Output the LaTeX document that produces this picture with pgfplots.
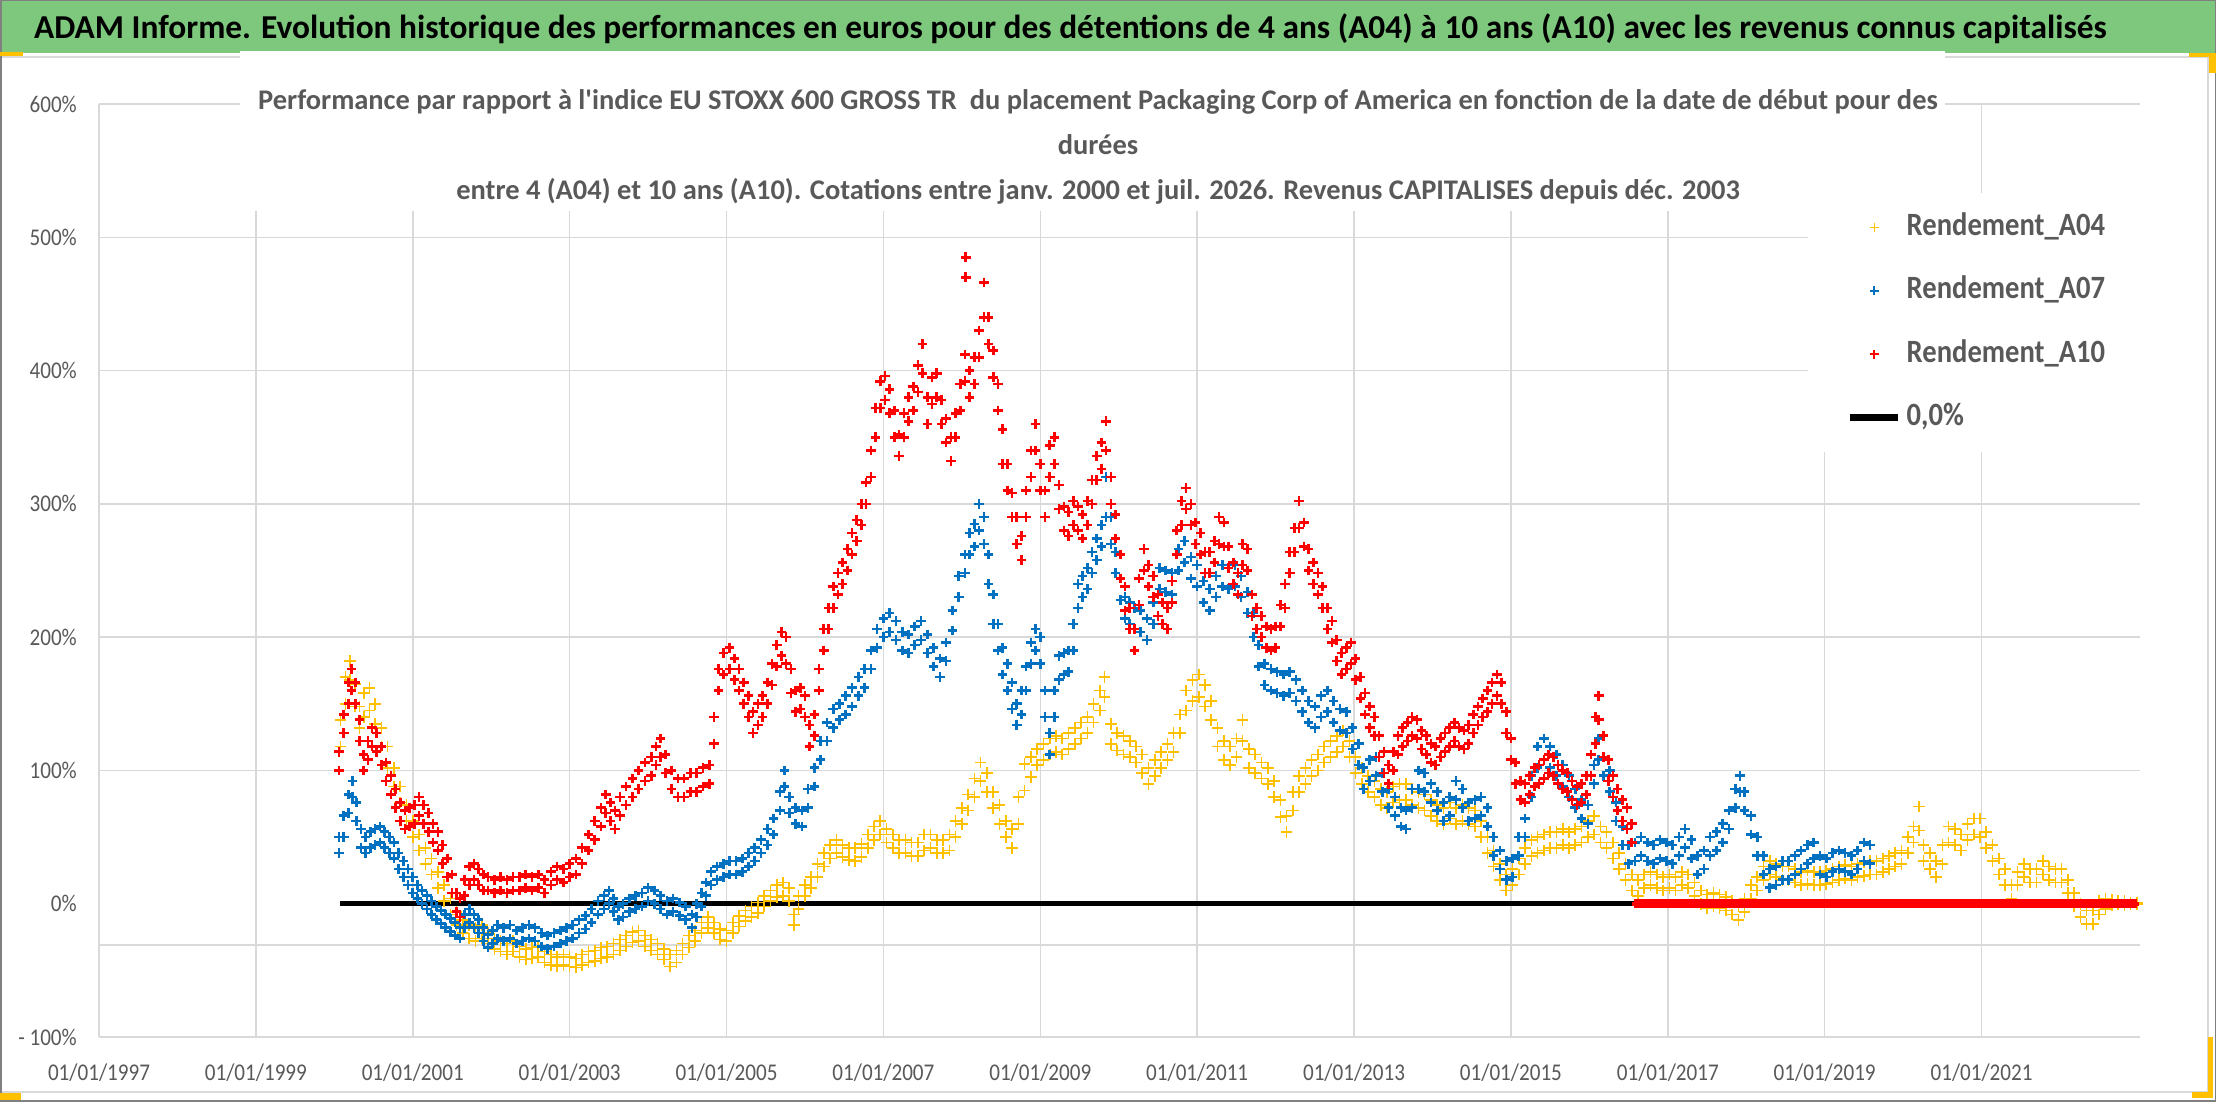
\documentclass[border=0pt]{standalone}
\usepackage{fontspec}
\usepackage{pgfplots}
\usepackage{pgfplotstable}
\pgfplotsset{compat=1.18}
\newfontfamily\carl{Carlito}[FakeStretch=0.88]
\newfontfamily\carln{Carlito}
\newcommand\ticksfont{\carl\fontsize{24}{28}\selectfont}
\newcommand\legfont{\carl\bfseries\fontsize{32.5}{38}\selectfont}
\newcommand\subfont{\carln\bfseries\fontsize{28.45}{32}\selectfont}
\newcommand\titfont{\carln\bfseries\fontsize{33.4}{40}\selectfont}
\definecolor{titlegreen}{RGB}{126,200,126}
\definecolor{gridc}{RGB}{217,217,217}
\definecolor{txtgrey}{RGB}{89,89,89}
\definecolor{yel}{RGB}{255,192,0}
\definecolor{blu}{RGB}{0,112,192}
\definecolor{rd}{RGB}{255,0,0}

% A04: date, band low, band high (%)
\pgfplotstableread{
x lo hi
2000.08 118 138
2000.14 150 170
2000.20 168 182
2000.26 148 165
2000.32 132 148
2000.38 140 158
2000.45 145 162
2000.52 135 150
2000.60 118 132
2000.68 102 118
2000.76 88 102
2000.84 76 88
2000.92 62 74
2001.00 50 62
2001.08 40 52
2001.16 30 42
2001.24 22 34
2001.32 12 24
2001.40 2 14
2001.48 -8 4
2001.56 -16 -6
2001.64 -22 -12
2001.72 -26 -16
2001.80 -28 -18
2001.88 -26 -16
2001.96 -30 -22
2002.04 -34 -26
2002.12 -36 -28
2002.20 -38 -30
2002.28 -36 -28
2002.36 -40 -32
2002.44 -42 -34
2002.52 -41 -33
2002.60 -40 -32
2002.68 -44 -36
2002.76 -46 -38
2002.84 -47 -40
2002.92 -46 -38
2003.00 -47 -40
2003.08 -48 -41
2003.16 -46 -38
2003.24 -44 -36
2003.32 -43 -35
2003.40 -41 -33
2003.48 -40 -32
2003.56 -38 -30
2003.64 -35 -27
2003.72 -32 -24
2003.80 -29 -21
2003.88 -28 -20
2003.96 -32 -24
2004.04 -35 -27
2004.12 -38 -30
2004.20 -42 -34
2004.28 -47 -38
2004.36 -44 -35
2004.44 -38 -30
2004.52 -33 -24
2004.60 -28 -20
2004.68 -22 -14
2004.76 -18 -10
2004.84 -22 -14
2004.92 -27 -19
2005.00 -28 -20
2005.08 -22 -14
2005.16 -17 -9
2005.24 -13 -5
2005.32 -10 -2
2005.40 -7 1
2005.48 -2 6
2005.56 2 10
2005.64 5 14
2005.72 6 16
2005.80 2 12
2005.86 -16 -8
2005.92 -4 6
2006.00 6 14
2006.08 12 20
2006.16 20 30
2006.24 28 38
2006.32 34 44
2006.40 38 48
2006.48 35 44
2006.56 33 42
2006.64 32 42
2006.72 35 45
2006.80 42 52
2006.88 48 58
2006.96 52 62
2007.04 46 56
2007.12 42 52
2007.20 38 48
2007.28 38 48
2007.36 36 46
2007.44 36 46
2007.52 40 52
2007.60 42 52
2007.68 38 48
2007.76 38 48
2007.84 40 52
2007.92 50 62
2008.00 60 72
2008.08 70 82
2008.16 80 94
2008.24 92 106
2008.32 84 98
2008.40 72 84
2008.48 60 74
2008.56 50 62
2008.64 42 56
2008.72 60 80
2008.80 85 105
2008.88 95 110
2008.96 104 116
2009.04 108 120
2009.12 112 124
2009.20 114 126
2009.28 112 124
2009.36 116 128
2009.44 120 132
2009.52 124 136
2009.60 128 140
2009.68 136 150
2009.76 145 160
2009.82 155 170
2009.90 120 135
2009.98 115 128
2010.06 112 126
2010.14 110 122
2010.22 106 118
2010.30 98 112
2010.38 90 102
2010.46 96 108
2010.54 102 114
2010.62 108 120
2010.70 114 128
2010.78 128 142
2010.86 145 160
2010.94 152 168
2011.02 155 172
2011.10 148 164
2011.18 138 152
2011.26 118 132
2011.34 108 122
2011.42 104 118
2011.50 110 124
2011.58 122 138
2011.66 102 116
2011.74 98 112
2011.82 94 106
2011.90 90 102
2011.98 80 92
2012.06 65 78
2012.14 54 66
2012.22 70 84
2012.30 84 96
2012.38 90 102
2012.46 96 108
2012.54 100 112
2012.62 106 118
2012.70 110 122
2012.78 114 126
2012.86 118 130
2012.94 110 122
2013.02 98 110
2013.10 90 102
2013.18 84 96
2013.26 80 92
2013.34 74 86
2013.42 72 84
2013.50 76 88
2013.58 78 90
2013.66 78 90
2013.74 74 86
2013.82 72 84
2013.90 70 82
2013.98 66 78
2014.06 62 74
2014.14 60 72
2014.22 64 76
2014.30 60 72
2014.38 62 74
2014.46 60 72
2014.54 58 70
2014.62 50 62
2014.70 38 50
2014.78 28 40
2014.86 18 30
2014.94 10 22
2015.02 14 26
2015.10 22 34
2015.18 30 42
2015.26 36 48
2015.34 38 50
2015.42 40 52
2015.50 42 54
2015.58 42 54
2015.66 44 56
2015.74 42 54
2015.82 44 56
2015.90 46 58
2015.98 50 62
2016.06 52 66
2016.14 46 58
2016.22 42 54
2016.30 34 46
2016.38 26 38
2016.46 18 30
2016.54 10 22
2016.62 6 18
2016.70 12 22
2016.78 14 24
2016.86 12 22
2016.94 10 20
2017.02 12 22
2017.10 10 20
2017.18 14 24
2017.26 12 22
2017.34 6 16
2017.42 0 10
2017.50 -3 7
2017.58 -2 8
2017.66 -3 7
2017.74 -5 5
2017.82 -8 2
2017.90 -12 -2
2017.98 -6 4
2018.06 4 14
2018.14 10 20
2018.22 18 28
2018.30 22 32
2018.38 20 30
2018.46 18 28
2018.54 18 28
2018.62 16 26
2018.70 14 24
2018.78 15 25
2018.86 14 24
2018.94 14 24
2019.02 15 25
2019.10 16 26
2019.18 18 28
2019.26 19 29
2019.34 18 28
2019.42 20 30
2019.50 21 31
2019.58 22 32
2019.66 22 32
2019.74 24 34
2019.82 26 36
2019.90 28 38
2019.98 30 40
2020.06 38 50
2020.13 46 58
2020.20 55 73
2020.26 32 44
2020.34 26 38
2020.42 20 32
2020.50 30 44
2020.58 46 58
2020.66 44 56
2020.74 40 52
2020.82 48 60
2020.90 52 64
2020.98 50 64
2021.06 42 54
2021.14 32 44
2021.22 22 34
2021.30 14 26
2021.38 4 14
2021.46 14 24
2021.54 20 30
2021.62 16 26
2021.70 16 26
2021.78 22 32
2021.86 18 28
2021.94 16 26
2022.02 16 26
2022.10 8 18
2022.18 -2 8
2022.26 -10 0
2022.34 -15 -5
2022.42 -15 -5
2022.50 -8 2
2022.58 -4 4
2022.66 -1 3
2022.74 0 2
2022.82 -1 2
2022.90 0 1
2022.98 0 1
}\tabA

% A07
\pgfplotstableread{
x lo hi
2000.06 38 50
2000.12 50 66
2000.18 68 82
2000.23 80 92
2000.28 62 76
2000.34 42 56
2000.40 38 50
2000.46 42 54
2000.52 44 56
2000.58 46 58
2000.64 42 54
2000.70 38 50
2000.76 34 46
2000.82 26 38
2000.88 20 32
2000.94 14 26
2001.00 8 20
2001.06 4 14
2001.12 0 10
2001.18 -4 6
2001.24 -8 2
2001.30 -12 -2
2001.36 -15 -5
2001.42 -18 -8
2001.48 -21 -11
2001.54 -24 -14
2001.60 -26 -18
2001.66 -18 -8
2001.72 -14 -4
2001.78 -18 -8
2001.84 -22 -12
2001.90 -28 -18
2001.96 -33 -23
2002.02 -30 -20
2002.08 -26 -16
2002.16 -28 -18
2002.24 -26 -16
2002.32 -30 -20
2002.40 -28 -18
2002.48 -26 -16
2002.56 -28 -18
2002.64 -32 -22
2002.72 -34 -24
2002.80 -32 -22
2002.88 -30 -20
2002.96 -28 -18
2003.04 -26 -16
2003.12 -22 -12
2003.20 -19 -9
2003.28 -14 -4
2003.36 -8 2
2003.44 -4 6
2003.50 0 10
2003.56 -6 4
2003.62 -12 -2
2003.68 -10 0
2003.76 -6 4
2003.84 -4 6
2003.92 -2 8
2004.00 2 12
2004.08 0 10
2004.16 -4 6
2004.24 -8 2
2004.32 -6 4
2004.40 -9 1
2004.48 -12 -2
2004.56 -18 -8
2004.62 -10 0
2004.68 -2 8
2004.74 6 16
2004.80 14 24
2004.88 18 28
2004.96 20 30
2005.04 22 32
2005.12 22 32
2005.20 24 34
2005.28 28 38
2005.36 32 42
2005.44 38 48
2005.52 44 56
2005.60 52 64
2005.68 70 84
2005.74 88 100
2005.80 68 80
2005.88 60 72
2005.96 58 70
2006.04 72 86
2006.12 88 102
2006.20 108 122
2006.28 122 136
2006.36 132 146
2006.44 138 150
2006.52 142 156
2006.60 148 162
2006.68 156 170
2006.76 162 176
2006.84 176 190
2006.92 192 206
2007.00 200 214
2007.08 204 218
2007.16 198 212
2007.24 190 204
2007.32 188 202
2007.40 194 208
2007.48 198 212
2007.56 188 202
2007.64 178 192
2007.72 170 184
2007.80 182 196
2007.88 205 220
2007.96 230 246
2008.04 248 262
2008.10 262 278
2008.16 268 285
2008.22 280 300
2008.28 270 290
2008.34 240 262
2008.40 210 232
2008.46 190 210
2008.52 172 192
2008.58 160 180
2008.64 146 166
2008.70 134 150
2008.76 142 160
2008.82 160 178
2008.88 180 196
2008.94 190 206
2009.00 180 200
2009.06 140 160
2009.12 112 128
2009.18 140 160
2009.24 168 186
2009.30 172 188
2009.36 174 190
2009.42 190 210
2009.48 222 240
2009.54 230 246
2009.60 236 252
2009.66 248 264
2009.72 258 274
2009.78 268 284
2009.84 290 320
2009.90 270 290
2009.96 248 264
2010.02 228 244
2010.08 214 230
2010.14 210 226
2010.20 206 222
2010.28 204 220
2010.36 198 214
2010.44 210 226
2010.52 236 252
2010.60 234 250
2010.68 232 248
2010.76 250 266
2010.84 256 272
2010.92 244 260
2011.00 238 254
2011.08 226 242
2011.16 220 236
2011.24 230 246
2011.32 238 254
2011.40 236 252
2011.48 238 254
2011.56 230 246
2011.64 218 234
2011.72 200 218
2011.78 178 194
2011.86 164 180
2011.94 160 176
2012.02 158 174
2012.10 156 172
2012.18 158 174
2012.26 152 168
2012.34 144 160
2012.42 136 152
2012.50 132 148
2012.58 140 156
2012.66 144 160
2012.74 136 152
2012.82 130 146
2012.90 128 144
2012.98 116 132
2013.06 104 120
2013.12 86 102
2013.20 92 108
2013.28 96 110
2013.36 84 98
2013.44 72 86
2013.52 66 80
2013.60 58 72
2013.66 56 70
2013.74 72 86
2013.82 86 100
2013.90 84 98
2013.98 76 90
2014.06 70 84
2014.14 62 76
2014.22 66 80
2014.30 78 92
2014.38 72 86
2014.46 62 76
2014.54 64 78
2014.62 66 80
2014.70 58 72
2014.78 36 50
2014.86 26 40
2014.94 18 32
2015.02 20 34
2015.10 36 50
2015.18 50 64
2015.26 80 96
2015.34 102 118
2015.42 108 124
2015.50 102 118
2015.58 96 112
2015.66 88 104
2015.74 80 96
2015.82 72 86
2015.90 64 78
2015.98 60 74
2016.06 90 104
2016.12 108 124
2016.18 96 110
2016.26 84 100
2016.34 62 76
2016.42 44 58
2016.50 30 44
2016.58 32 46
2016.66 36 50
2016.74 32 46
2016.82 30 44
2016.90 34 48
2016.98 32 46
2017.06 30 44
2017.14 36 50
2017.22 42 56
2017.30 34 48
2017.38 22 36
2017.46 26 40
2017.54 36 50
2017.62 40 54
2017.70 46 60
2017.78 56 70
2017.86 72 86
2017.92 84 96
2017.98 70 84
2018.06 52 66
2018.14 36 50
2018.22 22 36
2018.30 12 26
2018.38 14 28
2018.46 18 32
2018.54 18 32
2018.62 22 36
2018.70 26 40
2018.78 30 44
2018.86 34 46
2018.94 22 36
2019.02 20 34
2019.10 24 38
2019.18 26 40
2019.26 24 38
2019.34 22 36
2019.42 26 40
2019.50 32 46
2019.58 30 44
}\tabB

% A10
\pgfplotstableread{
x lo hi
2000.06 100 114
2000.12 128 142
2000.18 150 166
2000.22 160 176
2000.27 150 166
2000.32 122 138
2000.37 100 112
2000.43 108 122
2000.48 118 132
2000.54 114 128
2000.60 104 118
2000.66 92 106
2000.72 82 96
2000.78 72 86
2000.84 62 76
2000.90 56 70
2000.96 58 72
2001.02 60 74
2001.08 66 80
2001.14 60 74
2001.20 54 68
2001.26 46 60
2001.32 40 54
2001.38 30 44
2001.44 20 34
2001.50 8 22
2001.56 -6 8
2001.60 -10 4
2001.66 6 18
2001.72 14 28
2001.78 18 30
2001.84 14 26
2001.90 10 22
2001.96 10 20
2002.04 8 18
2002.12 10 20
2002.20 8 18
2002.28 10 20
2002.36 10 20
2002.44 12 22
2002.52 10 20
2002.60 12 22
2002.68 8 18
2002.76 14 24
2002.84 18 28
2002.92 16 26
2003.00 20 30
2003.08 22 34
2003.16 30 42
2003.24 40 52
2003.32 48 62
2003.40 58 72
2003.46 68 82
2003.52 62 76
2003.58 56 70
2003.64 66 80
2003.72 74 88
2003.80 80 94
2003.88 86 100
2003.96 92 106
2004.04 96 110
2004.10 104 118
2004.16 110 124
2004.22 98 112
2004.30 86 100
2004.38 80 94
2004.46 80 94
2004.54 84 98
2004.62 84 98
2004.70 88 102
2004.78 90 104
2004.84 120 140
2004.90 160 176
2004.96 172 188
2005.04 176 192
2005.10 168 184
2005.16 160 176
2005.22 150 166
2005.28 140 156
2005.34 128 144
2005.40 134 150
2005.46 140 156
2005.52 150 166
2005.58 164 180
2005.64 178 194
2005.70 186 204
2005.76 180 200
2005.82 158 176
2005.88 144 160
2005.94 146 162
2006.00 140 156
2006.06 118 134
2006.12 126 142
2006.18 160 176
2006.24 190 206
2006.30 206 222
2006.36 222 238
2006.42 232 248
2006.48 240 256
2006.54 250 266
2006.60 262 278
2006.66 272 288
2006.72 284 300
2006.78 300 316
2006.84 320 340
2006.90 350 372
2006.96 372 392
2007.02 378 396
2007.08 368 386
2007.14 350 370
2007.20 336 352
2007.26 350 368
2007.32 362 380
2007.38 370 388
2007.44 384 404
2007.50 398 420
2007.56 360 380
2007.62 375 395
2007.68 380 398
2007.74 360 378
2007.80 346 364
2007.86 332 350
2007.92 350 368
2007.98 370 390
2008.04 392 412
2008.05 470 485
2008.10 380 400
2008.16 390 410
2008.22 410 430
2008.28 440 466
2008.34 420 440
2008.40 395 415
2008.46 370 390
2008.52 330 356
2008.58 310 330
2008.64 290 308
2008.70 270 290
2008.76 258 276
2008.82 290 310
2008.88 320 340
2008.94 340 360
2009.00 310 330
2009.06 290 310
2009.12 320 344
2009.18 330 350
2009.24 296 314
2009.30 280 298
2009.36 276 294
2009.42 284 302
2009.48 280 298
2009.54 274 292
2009.60 284 302
2009.66 300 318
2009.72 318 336
2009.78 326 346
2009.84 340 362
2009.90 300 320
2009.96 274 292
2010.02 244 262
2010.08 220 238
2010.14 206 222
2010.20 190 206
2010.26 224 244
2010.32 250 266
2010.38 238 254
2010.44 230 246
2010.50 216 232
2010.56 210 226
2010.62 206 222
2010.68 226 242
2010.74 262 280
2010.80 284 302
2010.86 296 312
2010.92 284 300
2010.98 270 286
2011.04 262 278
2011.10 248 264
2011.16 248 264
2011.22 256 272
2011.28 270 290
2011.34 268 286
2011.40 252 268
2011.46 240 256
2011.52 232 248
2011.58 254 270
2011.64 250 266
2011.70 216 232
2011.76 206 222
2011.82 200 216
2011.88 192 208
2011.94 190 206
2012.00 192 208
2012.06 208 224
2012.12 222 240
2012.18 248 264
2012.24 264 282
2012.30 282 302
2012.36 268 286
2012.42 250 266
2012.48 240 256
2012.54 232 248
2012.60 222 238
2012.66 206 222
2012.72 196 212
2012.78 182 198
2012.84 172 188
2012.90 176 192
2012.96 180 196
2013.02 168 184
2013.08 154 170
2013.14 142 158
2013.20 132 148
2013.26 126 140
2013.32 110 126
2013.38 98 114
2013.44 90 104
2013.50 100 114
2013.56 112 126
2013.62 118 132
2013.68 122 136
2013.74 126 140
2013.80 124 138
2013.86 116 130
2013.92 112 126
2013.98 106 120
2014.04 104 118
2014.10 110 124
2014.16 114 128
2014.22 118 132
2014.28 122 136
2014.34 118 132
2014.40 116 130
2014.46 120 134
2014.52 128 142
2014.58 134 148
2014.64 140 154
2014.70 144 160
2014.76 150 166
2014.82 156 172
2014.88 150 166
2014.94 128 144
2015.00 108 124
2015.06 90 106
2015.12 78 92
2015.18 76 90
2015.24 82 96
2015.30 88 102
2015.36 90 104
2015.42 94 108
2015.48 98 112
2015.54 96 110
2015.60 90 104
2015.66 86 100
2015.72 84 98
2015.78 78 92
2015.84 74 88
2015.90 76 90
2015.96 82 96
2016.02 96 112
2016.08 120 140
2016.12 138 156
2016.18 110 126
2016.24 92 108
2016.30 80 96
2016.36 70 86
2016.42 62 78
2016.48 56 72
2016.54 46 60
}\tabC

\begin{document}
\begin{tikzpicture}[x=1pt,y=1pt]
\useasboundingbox (0,0) rectangle (2216,1102);
\fill[white] (0,0) rectangle (2216,1102);
% title band
\fill[titlegreen] (0,1049) rectangle (2216,1102);
\draw[gridc, line width=2pt] (0,1045) -- (2216,1045);
\draw[gridc, line width=2pt] (1,10) rectangle (2208,1045);
\draw[black!50, line width=1.5pt] (0.75,0.75) rectangle (2215.25,1101.25);
% handles
\fill[yel] (0,1046) rectangle (23,1050);
\fill[yel] (2189,1045) rectangle (2216,1049);
\fill[yel] (2209,1029) rectangle (2216,1049);
\fill[yel] (2208,4) rectangle (2213,65);
\fill[yel] (2192,4) rectangle (2213,10);
\fill[yel] (0,2) rectangle (21,9);
\node[anchor=base west, inner sep=0pt] at (34,1063)
  {\titfont ADAM Informe. Evolution historique des performances en euros pour des détentions de 4 ans (A04) à 10 ans (A10) avec les revenus connus capitalisés};

\begin{axis}[
  at={(99pt,65pt)}, anchor=south west,
  scale only axis, width=2041pt, height=933pt,
  xmin=1997, xmax=2023.02, ymin=-100, ymax=600,
  clip=false,
  axis line style={draw=none},
  tick style={draw=none},
  major tick length=0pt,
  scaled x ticks=false, scaled y ticks=false,
  xmajorgrids, ymajorgrids,
  major grid style={draw=gridc, line width=1.5pt},
  xtick={1997,1999,2001,2003,2005,2007,2009,2011,2013,2015,2017,2019,2021},
  xticklabels={01/01/1997,01/01/1999,01/01/2001,01/01/2003,01/01/2005,01/01/2007,01/01/2009,01/01/2011,01/01/2013,01/01/2015,01/01/2017,01/01/2019,01/01/2021},
  ytick={-100,-31,100,200,300,400,500,600},
  yticklabels={- 100\%,,100\%,200\%,300\%,400\%,500\%,600\%},
  extra y ticks={0}, extra y tick labels={0\%},
  extra y tick style={grid=none},
  tick label style={font=\ticksfont, text=txtgrey},
  xticklabel style={anchor=center, yshift=-36pt, inner sep=0pt},
  yticklabel style={anchor=east, xshift=-22pt, inner sep=0pt},
  legend cell align={left},
  legend style={at={(0.83733,0.90461)}, anchor=north west,
    draw=none, fill=white, font=\legfont, text=txtgrey,
    inner xsep=39pt, inner ysep=20pt, row sep=35.5pt,
    nodes={inner sep=0pt, text height=22pt, text depth=6pt},
    /tikz/every odd column/.append style={column sep=5pt}},
]
% subtitle background box
\fill[white] (axis cs:1998.796,519.7) rectangle (axis cs:2020.53,640);

\addplot[only marks, mark=+, mark size=5.8pt, color=yel, line width=1.6pt,
  legend image code/.code={\path[draw=none,fill=none] (0pt,0pt) -- (48pt,0pt);
    \draw[yel, line width=1.3pt] (19.5pt,0pt) -- (28.5pt,0pt) (24pt,-4.5pt) -- (24pt,4.5pt);}]
  table[x=x, y=lo] {\tabA};
\addlegendentry{Rendement\_A04}
\addplot[only marks, mark=+, mark size=5.8pt, color=yel, line width=1.6pt, forget plot]
  table[x=x, y=hi] {\tabA};

\addplot[only marks, mark=+, mark size=4.8pt, color=blu, line width=2.6pt,
  legend image code/.code={\path[draw=none,fill=none] (0pt,0pt) -- (48pt,0pt);
    \draw[blu, line width=2pt] (19.5pt,0pt) -- (28.5pt,0pt) (24pt,-4.5pt) -- (24pt,4.5pt);}]
  table[x=x, y=lo] {\tabB};
\addlegendentry{Rendement\_A07}
\addplot[only marks, mark=+, mark size=4.8pt, color=blu, line width=2.6pt, forget plot]
  table[x=x, y=hi] {\tabB};

\addplot[only marks, mark=+, mark size=4.8pt, color=rd, line width=2.6pt,
  legend image code/.code={\path[draw=none,fill=none] (0pt,0pt) -- (48pt,0pt);
    \draw[rd, line width=2pt] (19.5pt,0pt) -- (28.5pt,0pt) (24pt,-4.5pt) -- (24pt,4.5pt);}]
  table[x=x, y=lo] {\tabC};
\addlegendentry{Rendement\_A10}
\addplot[only marks, mark=+, mark size=4.8pt, color=rd, line width=2.6pt, forget plot]
  table[x=x, y=hi] {\tabC};
\addplot[only marks, mark=+, mark size=4.5pt, color=rd, line width=4pt, forget plot]
  coordinates {(2016.60,0)(2016.65,0)(2016.70,0)(2016.75,0)(2016.80,0)(2016.85,0)(2016.90,0)(2016.95,0)
  (2017.00,0)(2017.05,0)(2017.10,0)(2017.15,0)(2017.20,0)(2017.25,0)(2017.30,0)(2017.35,0)(2017.40,0)(2017.45,0)
  (2017.50,0)(2017.55,0)(2017.60,0)(2017.65,0)(2017.70,0)(2017.75,0)(2017.80,0)(2017.85,0)(2017.90,0)(2017.95,0)
  (2018.00,0)(2018.05,0)(2018.10,0)(2018.15,0)(2018.20,0)(2018.25,0)(2018.30,0)(2018.35,0)(2018.40,0)(2018.45,0)
  (2018.50,0)(2018.55,0)(2018.60,0)(2018.65,0)(2018.70,0)(2018.75,0)(2018.80,0)(2018.85,0)(2018.90,0)(2018.95,0)
  (2019.00,0)(2019.05,0)(2019.10,0)(2019.15,0)(2019.20,0)(2019.25,0)(2019.30,0)(2019.35,0)(2019.40,0)(2019.45,0)
  (2019.50,0)(2019.55,0)(2019.60,0)(2019.65,0)(2019.70,0)(2019.75,0)(2019.80,0)(2019.85,0)(2019.90,0)(2019.95,0)
  (2020.00,0)(2020.05,0)(2020.10,0)(2020.15,0)(2020.20,0)(2020.25,0)(2020.30,0)(2020.35,0)(2020.40,0)(2020.45,0)
  (2020.50,0)(2020.55,0)(2020.60,0)(2020.65,0)(2020.70,0)(2020.75,0)(2020.80,0)(2020.85,0)(2020.90,0)(2020.95,0)
  (2021.00,0)(2021.05,0)(2021.10,0)(2021.15,0)(2021.20,0)(2021.25,0)(2021.30,0)(2021.35,0)(2021.40,0)(2021.45,0)
  (2021.50,0)(2021.55,0)(2021.60,0)(2021.65,0)(2021.70,0)(2021.75,0)(2021.80,0)(2021.85,0)(2021.90,0)(2021.95,0)
  (2022.00,0)(2022.05,0)(2022.10,0)(2022.15,0)(2022.20,0)(2022.25,0)(2022.30,0)(2022.35,0)(2022.40,0)(2022.45,0)
  (2022.50,0)(2022.55,0)(2022.60,0)(2022.65,0)(2022.70,0)(2022.75,0)(2022.80,0)(2022.85,0)(2022.90,0)(2022.95,0)};

\addplot[black, line width=5.5pt, no marks,
  legend image code/.code={\draw[black, line width=6.5pt] (0pt,0pt) -- (48pt,0pt);}]
  coordinates {(2000.07,0) (2016.58,0)};
\addlegendentry{0,0\%}
\end{axis}

% subtitle
\node[anchor=base, inner sep=0pt, text=txtgrey] at (1098,992)
  {\subfont Performance par rapport à l'indice EU STOXX 600 GROSS TR\ \ du placement Packaging Corp of America en fonction de la date de début pour des};
\node[anchor=base, inner sep=0pt, text=txtgrey] at (1098,947) {\subfont durées};
\node[anchor=base, inner sep=0pt, text=txtgrey] at (1098,902)
  {\subfont entre 4 (A04) et 10 ans (A10). Cotations entre janv. 2000 et juil. 2026. Revenus CAPITALISES depuis déc. 2003};
\end{tikzpicture}
\end{document}
